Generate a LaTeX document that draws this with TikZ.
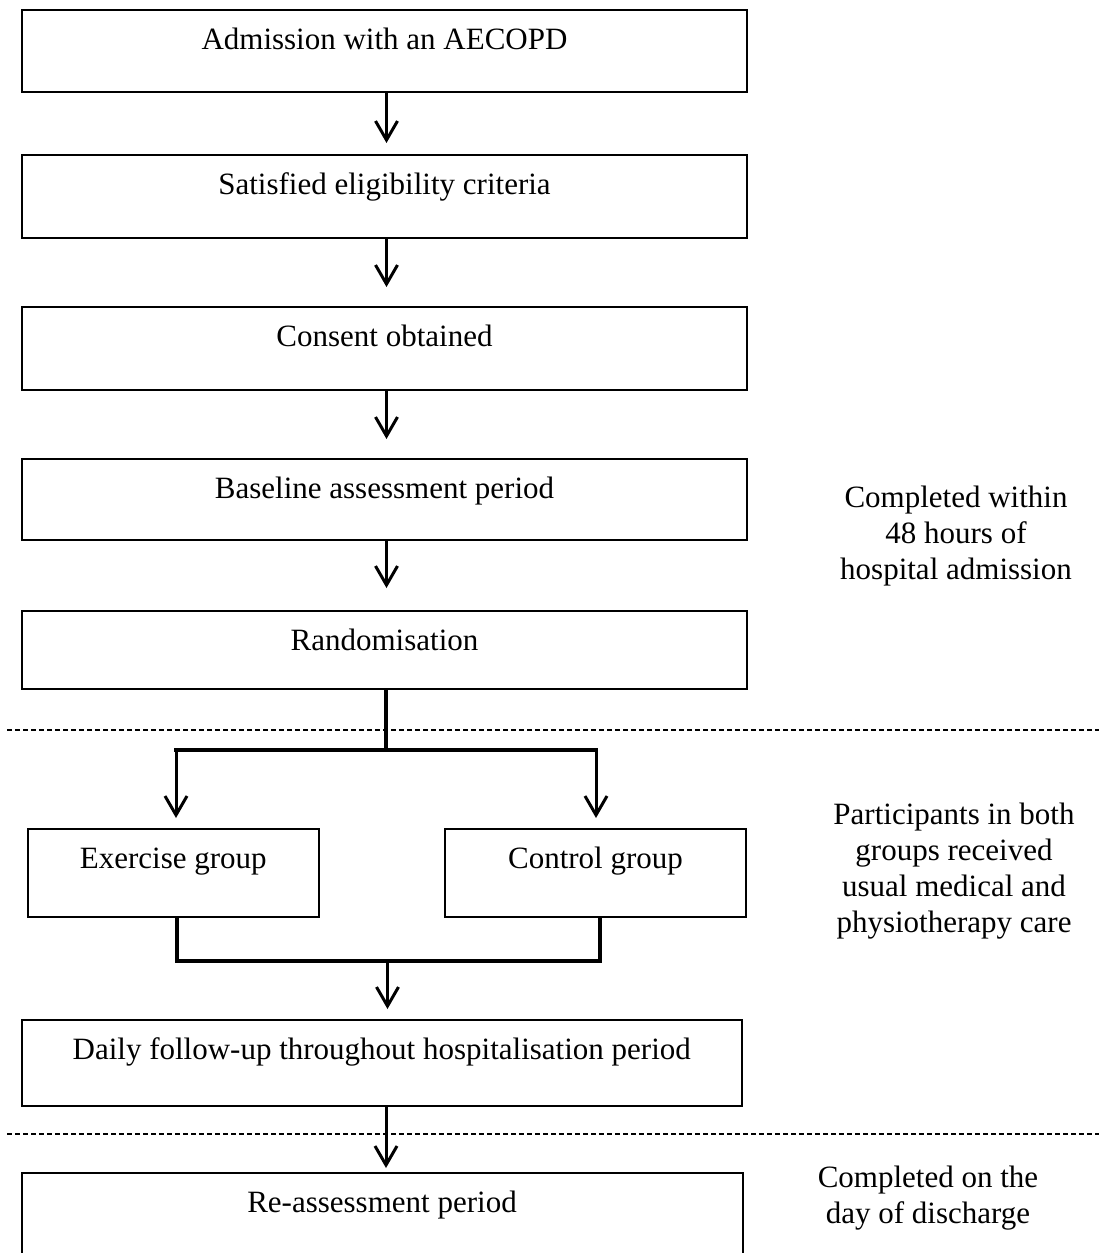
\documentclass[tikz,border=0pt]{standalone}
\usepackage{fontspec}
\setmainfont{Liberation Serif}
\usetikzlibrary{arrows.meta}
\begin{document}
\begin{tikzpicture}[x=0.5pt,y=-0.5pt,
  txt/.style={font=\fontsize{15.5pt}{18pt}\selectfont},
  box/.style={draw, line width=1pt, inner xsep=0pt, inner ysep=0pt, anchor=north, text height=19.5pt, txt},
  arr/.style={line width=1.5pt, -{Straight Barb[length=9.5pt,width=11pt]}},
  link/.style={line width=2pt, line cap=rect},
  sep/.style={line width=0.7pt, dash pattern=on 2.7pt off 1.3pt},
  note/.style={anchor=base, inner sep=0pt, txt}]
\useasboundingbox (0,0) rectangle (1099,1253);

% boxes
\node[box, minimum width=362.5pt, text depth=21.5pt] (b1) at (384.5,9) {Admission with an AECOPD};
\node[box, minimum width=362.5pt, text depth=22pt] (b2) at (384.5,154) {Satisfied eligibility criteria};
\node[box, minimum width=362.5pt, text depth=22pt] (b3) at (384.5,306) {Consent obtained};
\node[box, minimum width=362.5pt, text depth=21pt] (b4) at (384.5,458) {Baseline assessment period};
\node[box, minimum width=362.5pt, text depth=19.5pt] (b5) at (384.5,610) {Randomisation};
\node[box, minimum width=145.75pt, text depth=24.5pt] (ex) at (173.25,828) {Exercise group};
\node[box, minimum width=150.5pt, text depth=24.5pt] (ct) at (595.5,828) {Control group};
\node[box, minimum width=360.25pt, text depth=23.5pt] (dy) at (381.75,1019) {Daily follow-up throughout hospitalisation period};
\node[box, minimum width=360.5pt, text depth=30.5pt] (re) at (382,1172) {Re-assessment period};

% side notes
\node[note] (n1) at (956,507) {\begin{tabular}[t]{@{}c@{}}Completed within\\48 hours of\\hospital admission\end{tabular}};
\node[note] (n2) at (954,824) {\begin{tabular}[t]{@{}c@{}}Participants in both\\groups received\\usual medical and\\physiotherapy care\end{tabular}};
\node[note] (n3) at (928,1187) {\begin{tabular}[t]{@{}c@{}}Completed on the\\day of discharge\end{tabular}};

% helper coordinates
\coordinate (ax) at (386.5,0);
\coordinate (j1) at (386,750);
\coordinate (la) at (176,750);
\coordinate (ra) at (596,750);
\coordinate (lb) at (176.5,961);
\coordinate (rb) at (599.5,961);
\coordinate (j2) at (387.5,961);
\coordinate (bx) at (386,0);
\coordinate (d1l) at (7,730);
\coordinate (d1r) at (1099,730);
\coordinate (d2l) at (7,1134);
\coordinate (d2r) at (1099,1134);

% dashed separators
\draw[sep] (d1l) -- (d1r);
\draw[sep] (d2l) -- (d2r);

% straight arrows
\draw[arr, shorten >=5.5pt] (ax |- b1.south) -- (ax |- b2.north);
\draw[arr, shorten >=9.5pt] (ax |- b2.south) -- (ax |- b3.north);
\draw[arr, shorten >=9.5pt] (ax |- b3.south) -- (ax |- b4.north);
\draw[arr, shorten >=11pt] (ax |- b4.south) -- (ax |- b5.north);

% split
\draw[link] (j1 |- b5.south) -- (j1);
\draw[link] (la) -- (ra);
\draw[arr, shorten >=5pt] (la) -- (la |- ex.north);
\draw[arr, shorten >=5pt] (ra) -- (ra |- ct.north);

% merge
\draw[link, line join=miter] (lb |- ex.south) -- (lb) -- (rb) -- (rb |- ct.south);
\draw[arr, shorten >=5pt] (j2) -- (j2 |- dy.north);
\draw[arr, shorten >=2pt] (bx |- dy.south) -- (bx |- re.north);
\end{tikzpicture}
\end{document}
